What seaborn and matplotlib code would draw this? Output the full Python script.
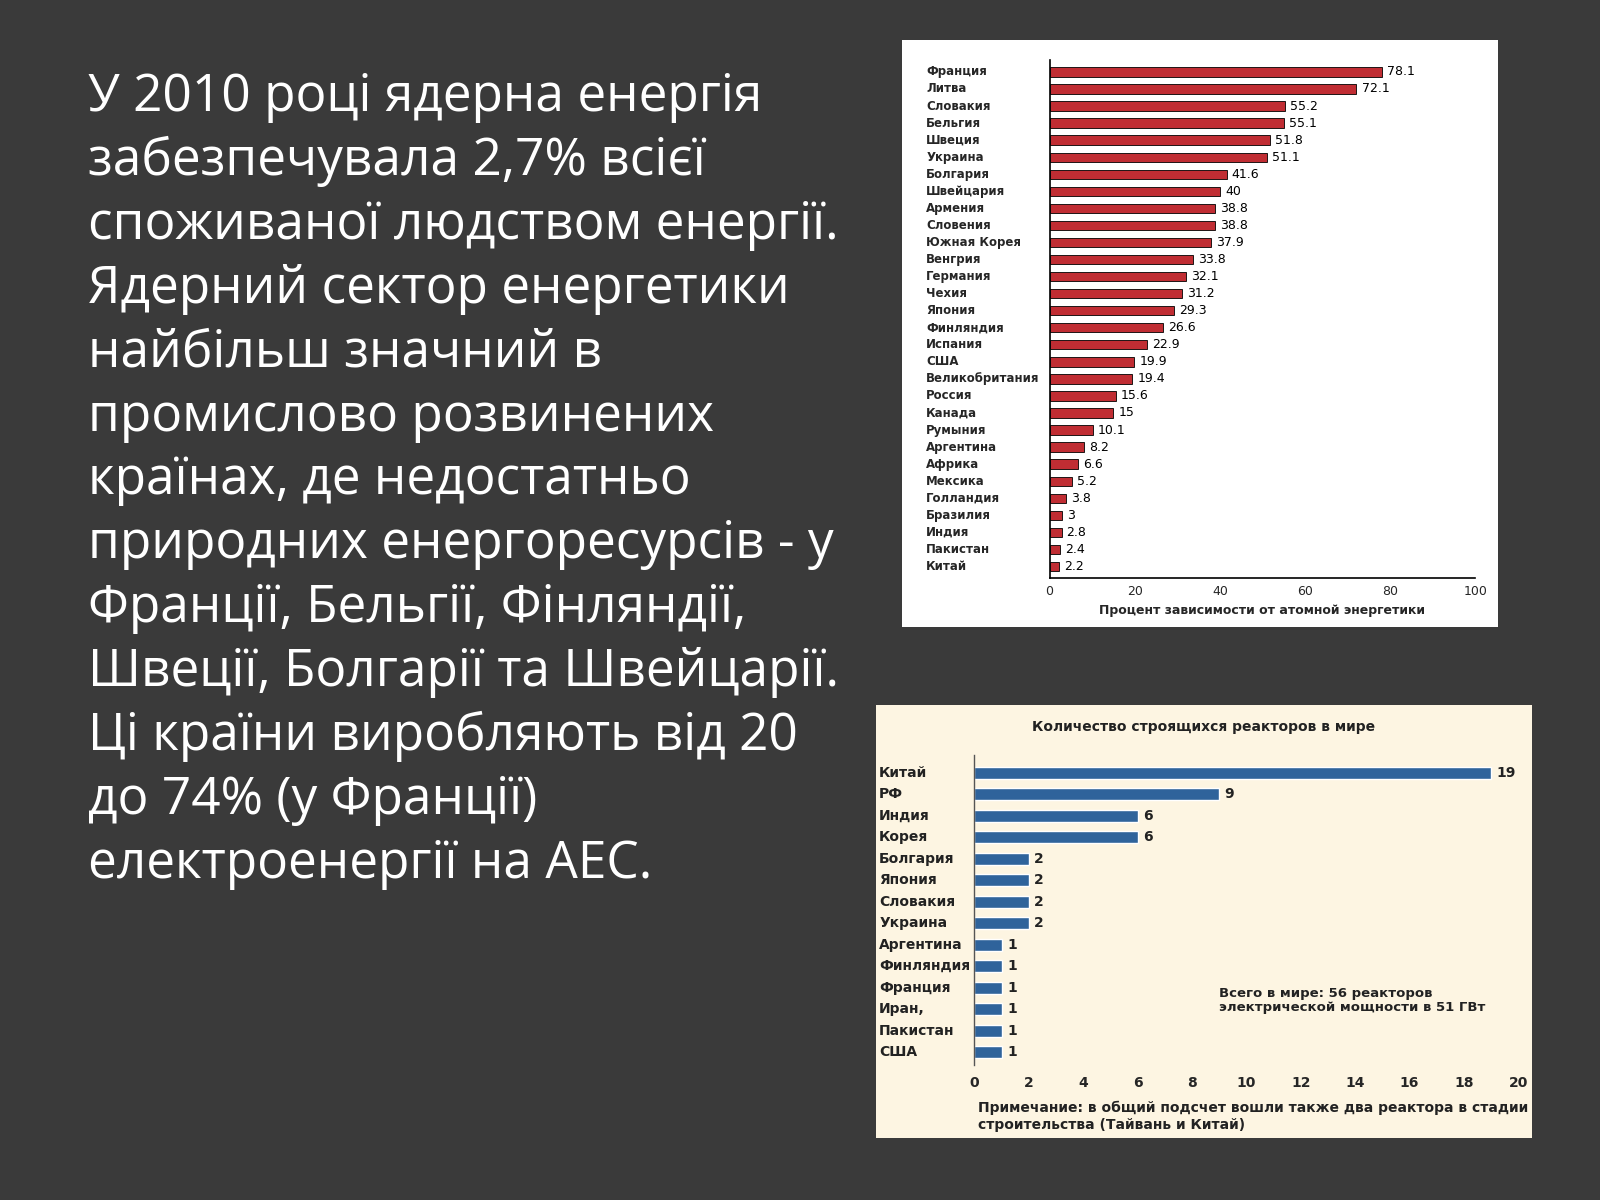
import matplotlib
matplotlib.use("Agg")
import matplotlib.pyplot as plt
import seaborn as sns
import pandas as pd

SLIDE_TEXT = ("У 2010 році ядерна енергія\nзабезпечувала 2,7% всієї\nспоживаної людством енергії.\n"
              "Ядерний сектор енергетики\nнайбільш значний в\nпромислово розвинених\n"
              "країнах, де недостатньо\nприродних енергоресурсів - у\nФранції, Бельгії, Фінляндії,\n"
              "Швеції, Болгарії та Швейцарії.\nЦі країни виробляють від 20\nдо 74% (у Франції)\n"
              "електроенергії на АЕС.")

SHARE_COUNTRIES = ["Франция", "Литва", "Словакия", "Бельгия", "Швеция", "Украина", "Болгария",
                   "Швейцария", "Армения", "Словения", "Южная Корея", "Венгрия", "Германия",
                   "Чехия", "Япония", "Финляндия", "Испания", "США", "Великобритания", "Россия",
                   "Канада", "Румыния", "Аргентина", "Африка", "Мексика", "Голландия",
                   "Бразилия", "Индия", "Пакистан", "Китай"]
SHARE_VALUES = [78.1, 72.1, 55.2, 55.1, 51.8, 51.1, 41.6, 40, 38.8, 38.8, 37.9, 33.8, 32.1,
                31.2, 29.3, 26.6, 22.9, 19.9, 19.4, 15.6, 15, 10.1, 8.2, 6.6, 5.2, 3.8,
                3, 2.8, 2.4, 2.2]

REACTOR_COUNTRIES = ["Китай", "РФ", "Индия", "Корея", "Болгария", "Япония", "Словакия",
                     "Украина", "Аргентина", "Финляндия", "Франция", "Иран,", "Пакистан", "США"]
REACTOR_COUNTS = [19, 9, 6, 6, 2, 2, 2, 2, 1, 1, 1, 1, 1, 1]

sns.set_theme(style="white")
fig = plt.figure(figsize=(16, 12), dpi=100)
fig.patch.set_facecolor("#3a3a3a")

fig.text(0.055, 0.94, SLIDE_TEXT, color="white", fontsize=37, family="Open Sans",
         va="top", ha="left", linespacing=1.33)


def panel(rect, color):
    ax = fig.add_axes(rect)
    ax.set_facecolor(color)
    ax.set_xticks([])
    ax.set_yticks([])
    for s in ax.spines.values():
        s.set_visible(False)
    return ax


# chart 1
panel([0.564, 0.4775, 0.3725, 0.489], "white")
df1 = pd.DataFrame({"country": SHARE_COUNTRIES, "value": SHARE_VALUES})
ax1 = fig.add_axes([0.656, 0.518, 0.266, 0.432])
ax1.set_facecolor("white")
sns.barplot(data=df1, x="value", y="country", orient="h", color="#d9141c",
            edgecolor="black", linewidth=0.6, width=0.55, ax=ax1)
for i, v in enumerate(SHARE_VALUES):
    ax1.text(v + 1.2, i, f"{v:g}", va="center", fontsize=9, color="black")
    ax1.text(-0.29, i, SHARE_COUNTRIES[i], transform=ax1.get_yaxis_transform(),
             va="center", ha="left", fontsize=8.5, fontweight="bold")
ax1.set_xlim(0, 100)
ax1.set_ylim(len(SHARE_VALUES) - 0.3, -0.7)
ax1.set_xticks(range(0, 101, 20))
ax1.set_yticks([])
ax1.set_xlabel("Процент зависимости от атомной энергетики", fontsize=9, fontweight="bold")
ax1.set_ylabel("")
ax1.tick_params(axis="x", labelsize=9, length=3, pad=2, direction="out")
for s in ["top", "right"]:
    ax1.spines[s].set_visible(False)
for s in ["left", "bottom"]:
    ax1.spines[s].set_color("black")
    ax1.spines[s].set_linewidth(1.2)

# chart 2
bg2 = panel([0.5475, 0.0517, 0.41, 0.361], "#fdf5e2")
bg2.text(0.5, 0.965, "Количество строящихся реакторов в мире", transform=bg2.transAxes,
         ha="center", va="top", fontsize=10, fontweight="bold", color="#222222")
bg2.text(0.155, 0.085, "Примечание: в общий подсчет вошли также два реактора в стадии\n"
         "строительства (Тайвань и Китай)", transform=bg2.transAxes,
         ha="left", va="top", fontsize=10, fontweight="bold", color="#222222")
df2 = pd.DataFrame({"country": REACTOR_COUNTRIES, "count": REACTOR_COUNTS})
ax2 = fig.add_axes([0.609, 0.1125, 0.34, 0.258])
ax2.set_facecolor("#fdf5e2")
sns.barplot(data=df2, x="count", y="country", orient="h", color="#1d62ad",
            width=0.55, ax=ax2)
for i, v in enumerate(REACTOR_COUNTS):
    ax2.text(v + 0.2, i, f"{v}", va="center", fontsize=10, fontweight="bold", color="#222222")
    ax2.text(-0.175, i, REACTOR_COUNTRIES[i], transform=ax2.get_yaxis_transform(),
             va="center", ha="left", fontsize=10, fontweight="bold", color="#222222")
ax2.set_xlim(0, 20)
ax2.set_ylim(len(REACTOR_COUNTS) - 0.4, -0.8)
ax2.set_xticks(range(0, 21, 2))
ax2.set_yticks([])
ax2.set_xlabel("")
ax2.set_ylabel("")
ax2.tick_params(axis="x", labelsize=10, length=0, pad=8)
for lab in ax2.get_xticklabels():
    lab.set_fontweight("bold")
for s in ["top", "right", "bottom"]:
    ax2.spines[s].set_visible(False)
ax2.spines["left"].set_color("#555555")
ax2.spines["left"].set_linewidth(1)
ax2.text(9.0, 10.6, "Всего в мире: 56 реакторов\nэлектрической мощности в 51 ГВт",
         fontsize=9.5, fontweight="bold", color="#222222", va="center")

fig.savefig("out.png", dpi=100, facecolor=fig.get_facecolor())
